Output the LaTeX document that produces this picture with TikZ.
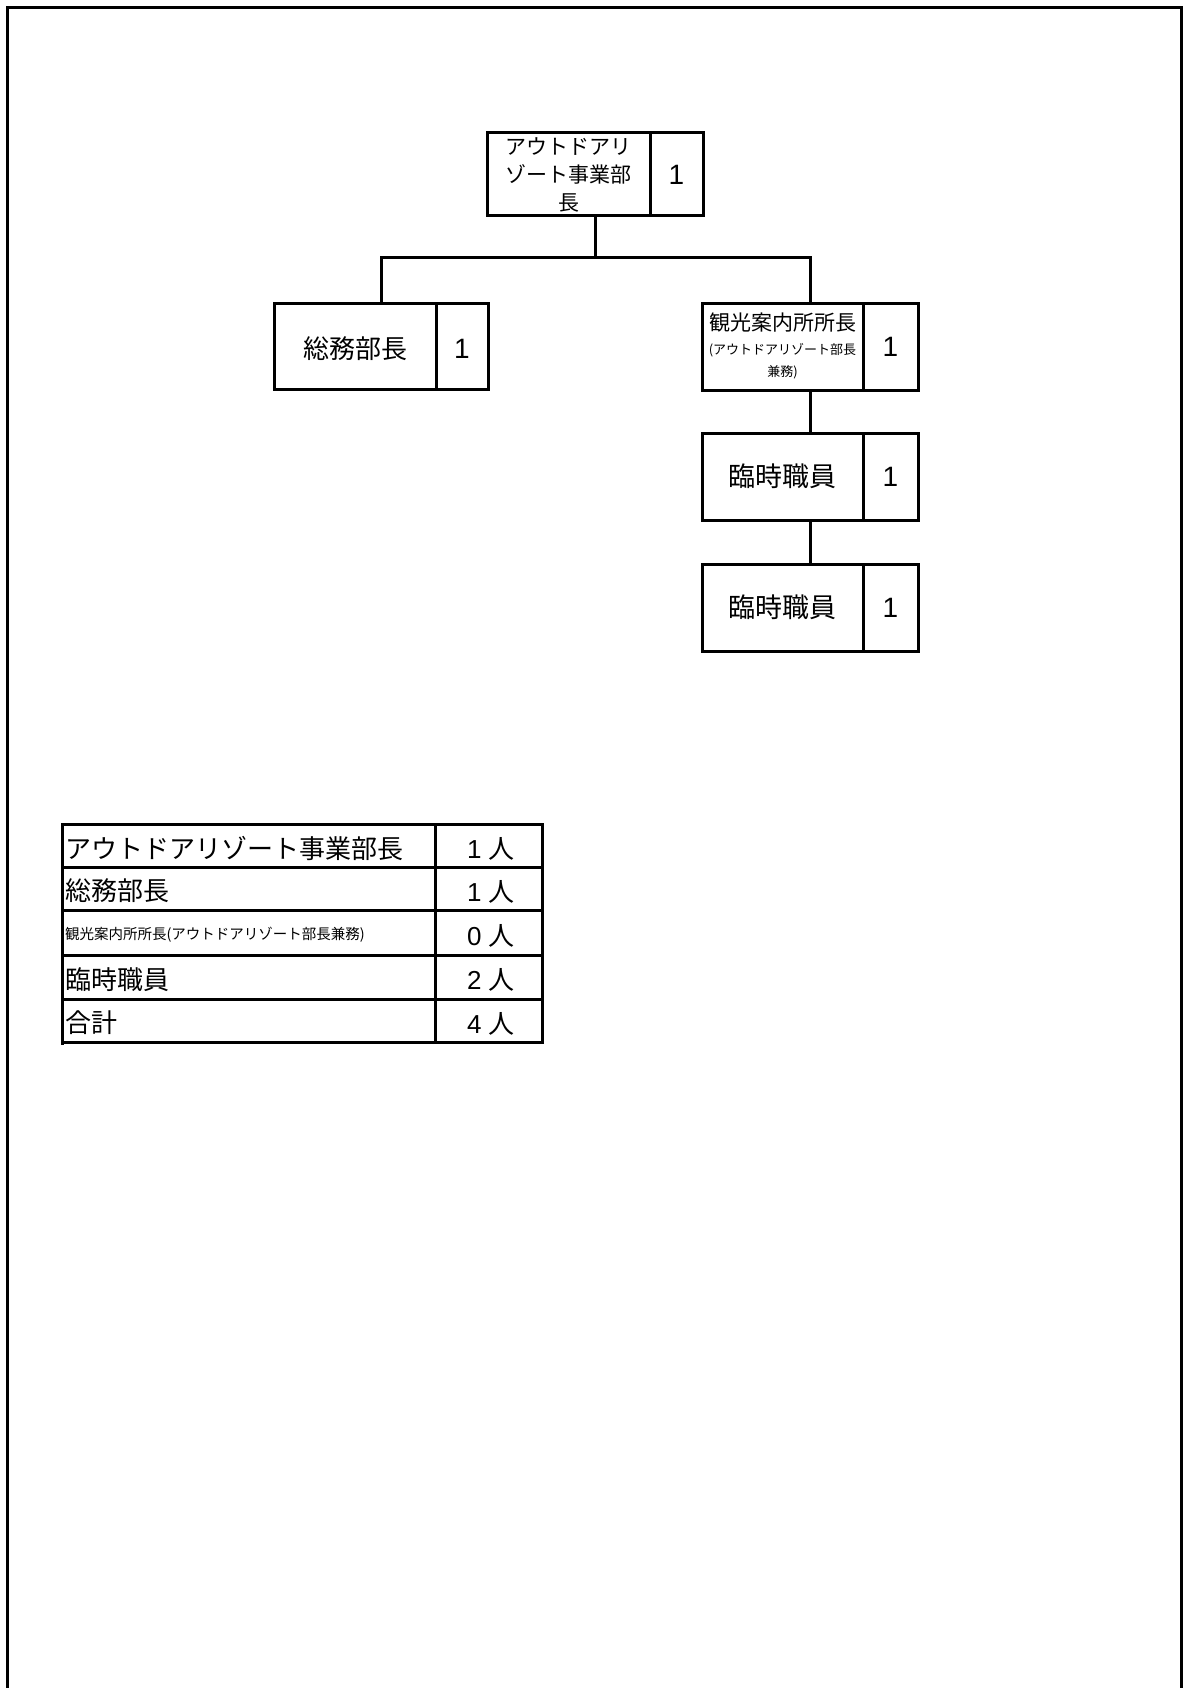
\documentclass[tikz,border=0pt]{standalone}
\usepackage{fontspec}
\setmainfont{Liberation Sans}
\newfontfamily\cjk{Noto Sans CJK JP}
\begin{document}
\begin{tikzpicture}[x=1pt,y=-1pt,
  line width=3pt,
  box/.style={draw, line width=3pt, minimum width=216pt, minimum height=87pt, inner sep=0pt, outer sep=0pt},
  txt/.style={inner sep=0pt, outer sep=0pt},
  jp/.style={txt, font=\cjk\fontsize{#1}{#1}\selectfont},
  num/.style={txt, font=\fontsize{28}{30}\selectfont},
  tnum/.style={txt, font=\fontsize{26}{28}\selectfont},
]
\useasboundingbox (0,0) rectangle (1184,1688);
% outer frame
\draw (7.5,1700) -- (7.5,7.5) -- (1181.5,7.5) -- (1181.5,1700);

% org boxes
\node[box, minimum height=83pt] (top) at (595,174.5) {};
\draw (650,133) -- (650,216);
\node[txt, font=\cjk\fontsize{21}{28}\selectfont, align=center] (topl) at (568.5,175) {アウトドアリ\\ゾート事業部\\長};
\node[num] (topn) at (676.5,174.5) {1};

\node[box, minimum width=214pt, minimum height=86pt] (soumu) at (381,346) {};
\draw (436,303) -- (436,389);
\node[jp=26] (soumul) at (355,349) {総務部長};
\node[num] (soumun) at (462,349) {1};

\node[box] (kanko) at (810,346.5) {};
\draw (863,303) -- (863,390);
\node[jp=21] (kankol1) at (782.5,323) {観光案内所所長};
\node[jp=13] (kankol2) at (782.5,350) {(アウトドアリゾート部長};
\node[jp=13] (kankol3) at (782.5,372) {兼務)};
\node[num] (kankon) at (890.5,346.5) {1};

\node[box] (rinji1) at (810,476.5) {};
\draw (863,433) -- (863,520);
\node[jp=27] (rinji1l) at (782.5,476.5) {臨時職員};
\node[num] (rinji1n) at (890.5,476.5) {1};

\node[box] (rinji2) at (810,607.5) {};
\draw (863,564) -- (863,651);
\node[jp=27] (rinji2l) at (782.5,607.5) {臨時職員};
\node[num] (rinji2n) at (890.5,607.5) {1};

% connectors
\coordinate (bus) at (595,258);
\coordinate (busL) at (381,258);
\coordinate (busR) at (810,258);
\draw (top.south) -- (bus);
\draw (soumu.north) -- (busL) -- (busR) -- (kanko.north);
\draw (kanko.south) -- (rinji1.north);
\draw (rinji1.south) -- (rinji2.north);

% summary table
\node[draw, line width=3pt, minimum width=480pt, minimum height=218pt, inner sep=0pt, outer sep=0pt] (tbl) at (302,933) {};
\draw (62,1042) -- (62,1045);
\foreach \yy in {867,910,955,999} \draw (62,\yy) -- (542,\yy);
\draw (435,824) -- (435,1042);

\node[jp=26, anchor=west] (r1) at (65,848) {アウトドアリゾート事業部長};
\node[jp=26, anchor=west] (r2) at (65,891) {総務部長};
\node[jp=14.5, anchor=west] (r3) at (65,935) {観光案内所所長(アウトドアリゾート部長兼務)};
\node[jp=26, anchor=west] (r4) at (65,980) {臨時職員};
\node[jp=26, anchor=west] (r5) at (65,1023) {合計};

\node[tnum] (n1) at (491,849) {1 {\cjk 人}};
\node[tnum] (n2) at (491,892) {1 {\cjk 人}};
\node[tnum] (n3) at (491,936) {0 {\cjk 人}};
\node[tnum] (n4) at (491,980) {2 {\cjk 人}};
\node[tnum] (n5) at (491,1024) {4 {\cjk 人}};
\end{tikzpicture}
\end{document}
